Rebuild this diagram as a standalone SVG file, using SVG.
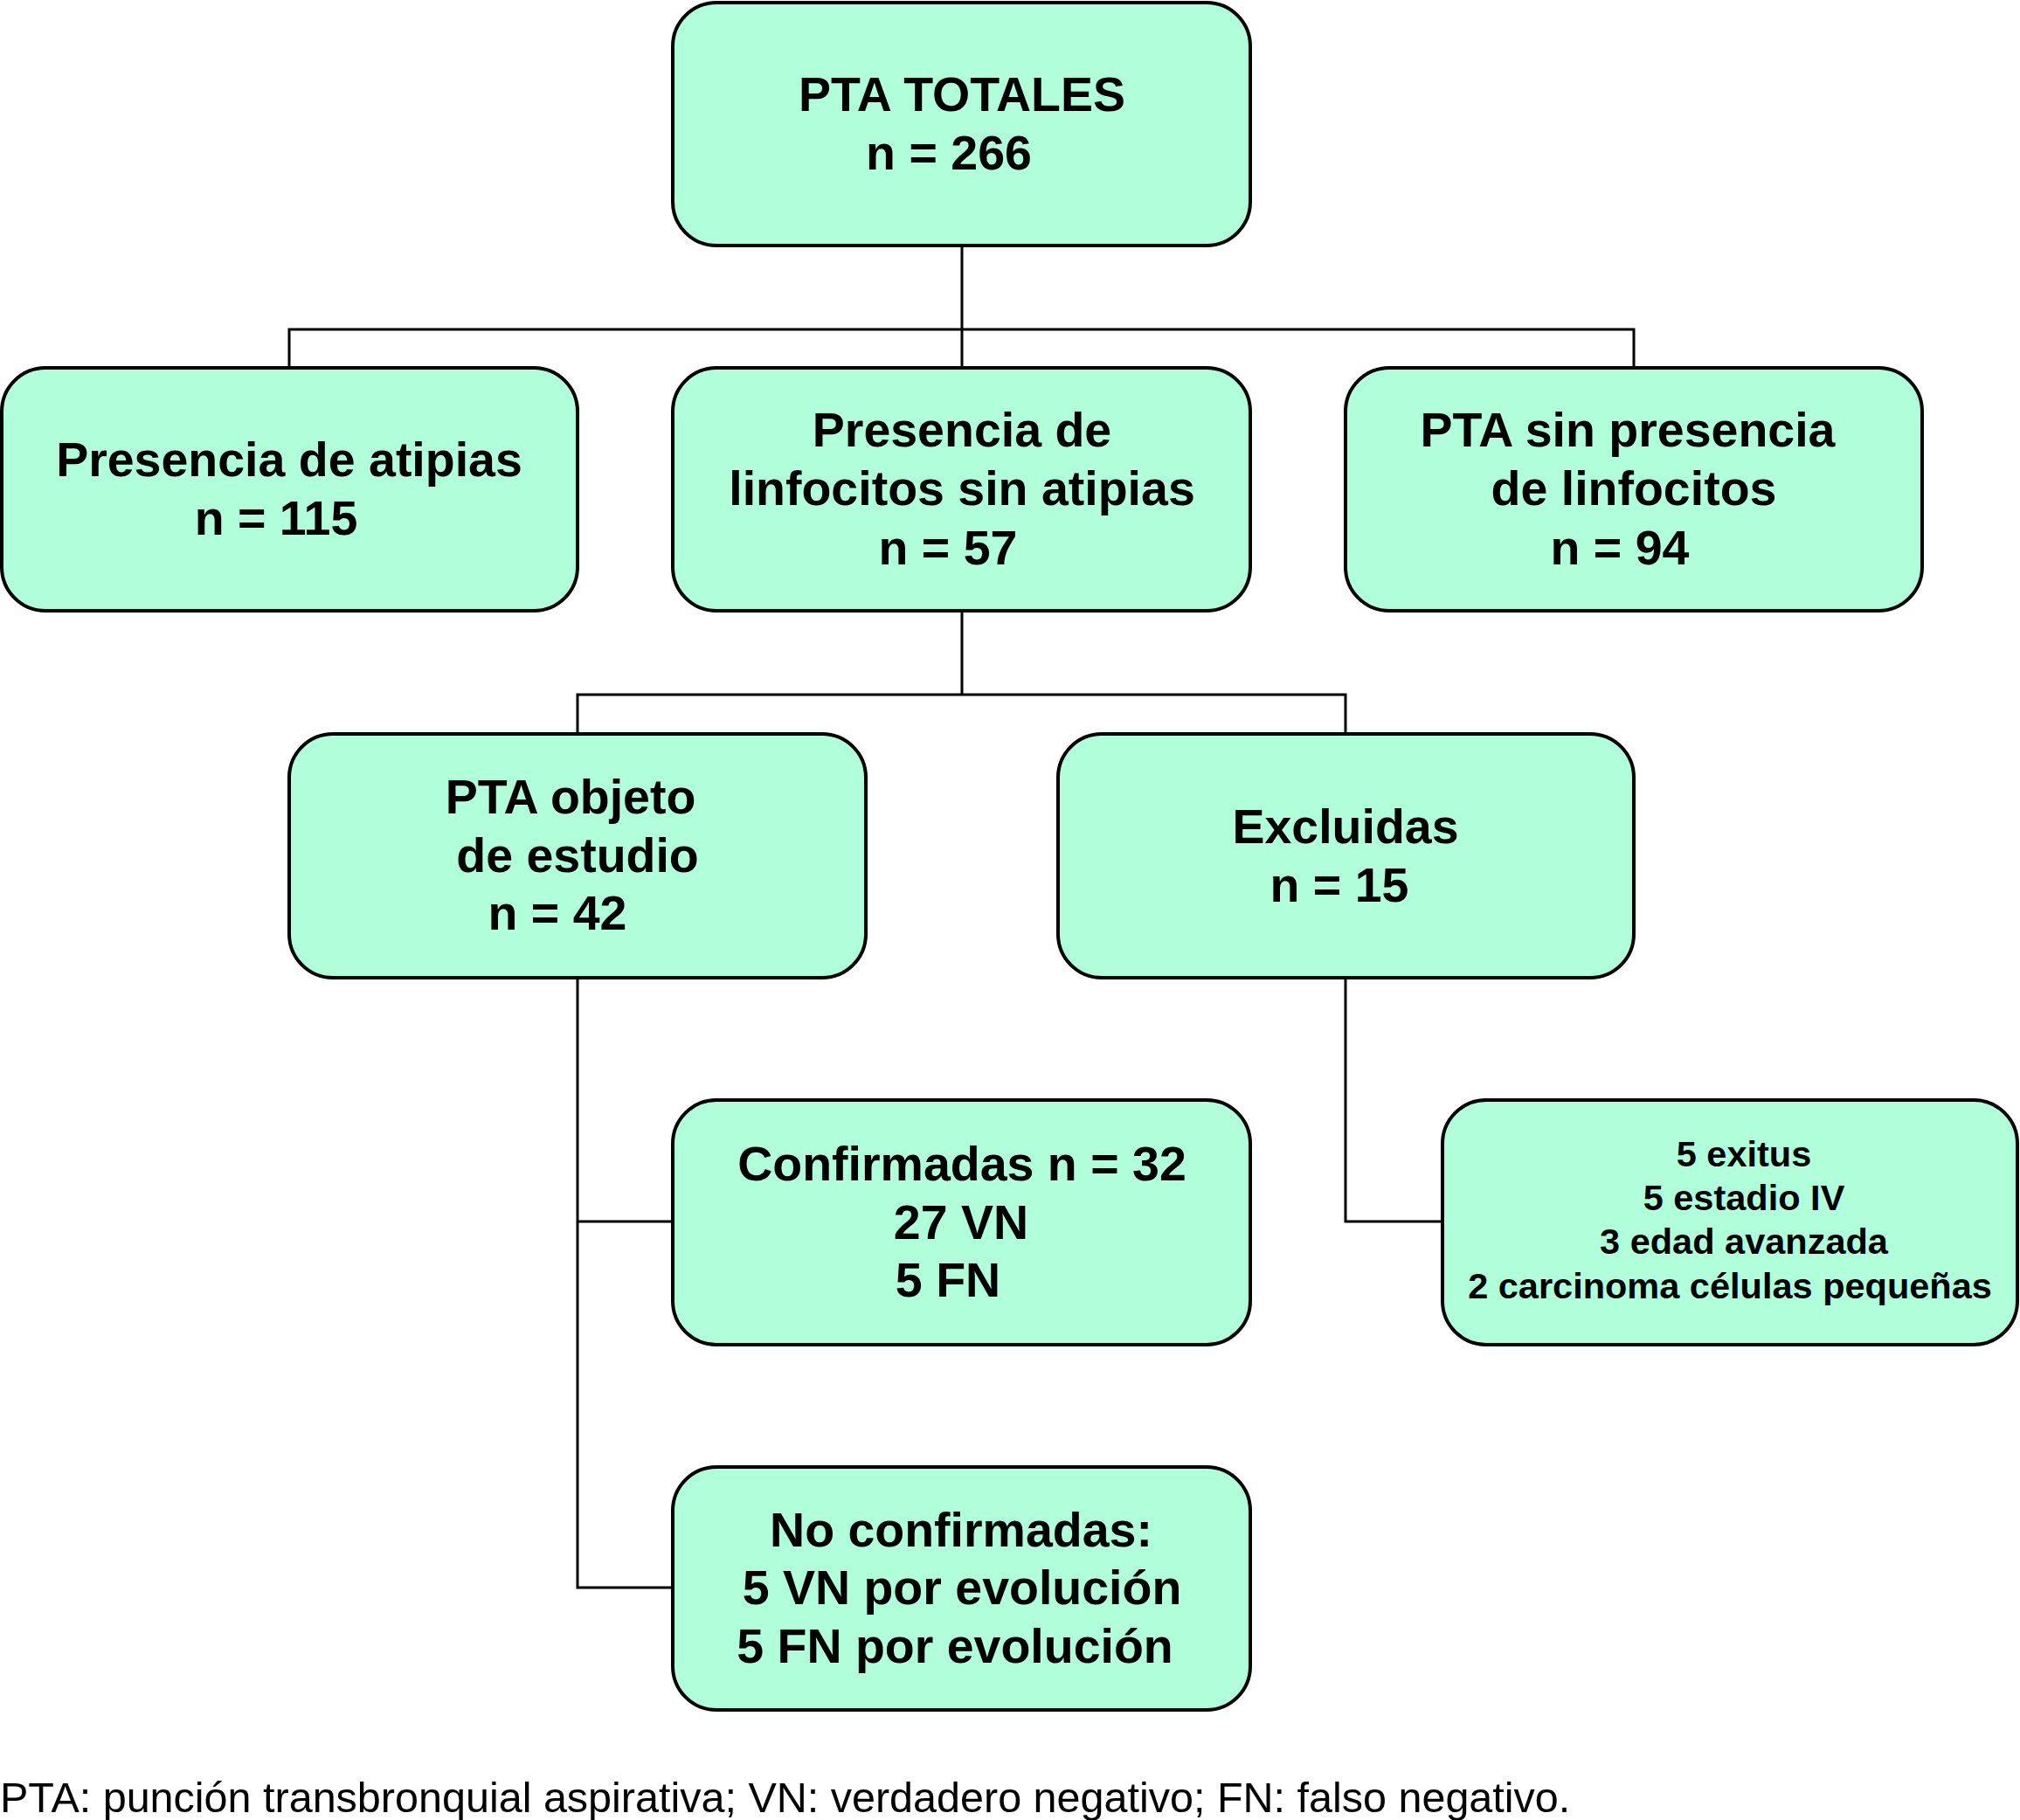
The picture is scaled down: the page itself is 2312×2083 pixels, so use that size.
<svg xmlns="http://www.w3.org/2000/svg" width="2312" height="2083" viewBox="0 0 2312 2083">
<style>
.box{fill:#B1FEDB;stroke:#000;stroke-width:4}
.t{font-family:"Liberation Sans",Arial,sans-serif;font-weight:bold;font-size:55.5px;text-anchor:middle;fill:#000}
.s{font-family:"Liberation Sans",Arial,sans-serif;font-weight:bold;font-size:41.5px;text-anchor:middle;fill:#000}
.f{font-family:"Liberation Sans",Arial,sans-serif;font-size:48.5px;fill:#000}
.c{fill:none;stroke:#000;stroke-width:3}
</style>
<rect width="2312" height="2083" fill="#fff"/>
<g id="connectors">
<path class="c" d="M1101 281V377M331 421V377H1870V421M1101 377V421"/>
<path class="c" d="M1101 699V795M661 840V795H1540V840"/>
<path class="c" d="M661 1119V1817H770M661 1398H770"/>
<path class="c" d="M1540 1119V1398H1651"/>
</g>
<g id="n_total"><rect class="box" x="770" y="3" width="661" height="278" rx="50"/>
<text class="t" x="1101" y="127">PTA TOTALES</text><text class="t" x="1086" y="194">n = 266</text></g>
<g id="n_atipias"><rect class="box" x="2" y="421" width="659" height="278" rx="50"/>
<text class="t" x="331" y="545">Presencia de atipias</text><text class="t" x="316" y="612">n = 115</text></g>
<g id="n_linfo"><rect class="box" x="770" y="421" width="661" height="278" rx="50"/>
<text class="t" x="1101" y="511">Presencia de</text><text class="t" x="1101" y="578">linfocitos sin atipias</text><text class="t" x="1085" y="646">n = 57</text></g>
<g id="n_sin"><rect class="box" x="1540" y="421" width="660" height="278" rx="50"/>
<text class="t" x="1863" y="511">PTA sin presencia</text><text class="t" x="1870" y="578">de linfocitos</text><text class="t" x="1854" y="646">n = 94</text></g>
<g id="n_objeto"><rect class="box" x="331" y="840" width="660" height="279" rx="50"/>
<text class="t" x="653" y="931">PTA objeto</text><text class="t" x="661" y="998">de estudio</text><text class="t" x="638" y="1064">n = 42</text></g>
<g id="n_excl"><rect class="box" x="1211" y="840" width="659" height="279" rx="50"/>
<text class="t" x="1540" y="965">Excluidas</text><text class="t" x="1533" y="1032">n = 15</text></g>
<g id="n_conf"><rect class="box" x="770" y="1259" width="661" height="280" rx="50"/>
<text class="t" x="1101" y="1351">Confirmadas n = 32</text><text class="t" x="1100" y="1418">27 VN</text><text class="t" x="1085" y="1484">5 FN</text></g>
<g id="n_motivos"><rect class="box" x="1651" y="1259" width="658" height="280" rx="50"/>
<text class="s" x="1996" y="1335">5 exitus</text><text class="s" x="1996" y="1385">5 estadio IV</text><text class="s" x="1996" y="1435">3 edad avanzada</text><text class="s" x="1980" y="1486">2 carcinoma células pequeñas</text></g>
<g id="n_noconf"><rect class="box" x="770" y="1679" width="661" height="278" rx="50"/>
<text class="t" x="1100" y="1770">No confirmadas:</text><text class="t" x="1101" y="1836">5 VN por evolución</text><text class="t" x="1093" y="1903">5 FN por evolución</text></g>
<text class="f" x="0" y="2074">PTA: punción transbronquial aspirativa; VN: verdadero negativo; FN: falso negativo.</text>
</svg>
